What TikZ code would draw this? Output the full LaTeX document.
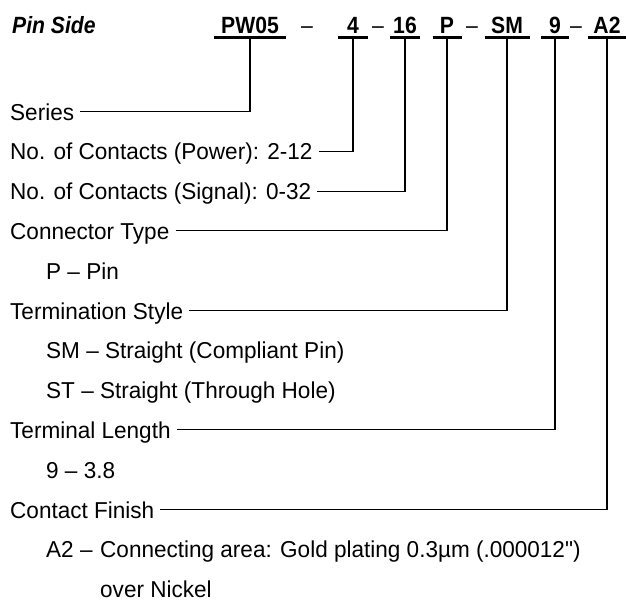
\documentclass[tikz,border=0pt]{standalone}
\usepackage{fontspec}
\setmainfont{Liberation Sans}[FakeStretch=0.98]
\newfontfamily\codefont{Liberation Sans}[Ligatures=TeX, FakeStretch=0.9]
\tikzset{
  lbl/.style={anchor=base west, inner sep=0pt, font=\fontsize{23}{28}\selectfont},
  code/.style={anchor=base, inner sep=0pt, font=\fontsize{23.5}{28}\codefont\bfseries},
  uline/.style={line width=2.4pt},
  lead/.style={line width=1.1pt},
}

\begin{document}
\begin{tikzpicture}[x=1pt,y=-1pt]
\useasboundingbox (0,0) rectangle (626,603);

\node[code, anchor=base west, font=\fontsize{23.5}{28}\codefont\bfseries\itshape] (title) at (12,33) {Pin Side};

\foreach \n/\t/\x/\w in {pw/PW05/250/72, nc/4/353/30, ns/16/405/30, ct/P/447/29, ts/SM/507/45, tl/9/555/28, cf/A2/607/39} % part number fields
{
\node[code] (\n) at (\x,33) {\t};
\coordinate (\n-u) at (\x,37.5);
\draw[uline] ([xshift={-0.5*\w pt}]\n-u) -- ([xshift={0.5*\w pt}]\n-u);
}
\foreach \x [count=\i] in {307,378,472,576} % dashes between fields
\node[code, font=\fontsize{23.5}{28}\codefont] (d\i) at (\x,33) {\textendash};

% main headings
\foreach \n/\t/\r in {ser/Series/0, pow/No. of Contacts (Power): 2-12/1, sig/No. of Contacts (Signal): 0-32/2, typ/Connector Type/3, term/Termination Style/5, len/Terminal Length/8, fin/Contact Finish/10}
\node[lbl] (\n) at (10,120+39.8*\r) {\t};

% options
\foreach \n/\t/\r in {p/P -- Pin/4, sm/SM -- Straight (Compliant Pin)/6, st/ST -- Straight (Through Hole)/7, len9/9 -- 3.8/9, a2/A2 --/11}
\node[lbl] (\n) at (46,120+39.8*\r) {\t};
\node[lbl] (a2txt) at (100,120+39.8*11) {Connecting area: Gold plating 0.3µm (.000012\textquotedbl)};
\node[lbl] (a2txt2) at (100,120+39.8*12) {over Nickel};

% leaders from heading to field
\foreach \l/\c in {ser/pw, pow/nc, sig/ns, typ/ct, term/ts, len/tl, fin/cf}
\draw[lead] ([shift={(6pt,8.5pt)}]\l.base east) -| (\c-u);

\end{tikzpicture}
\end{document}
